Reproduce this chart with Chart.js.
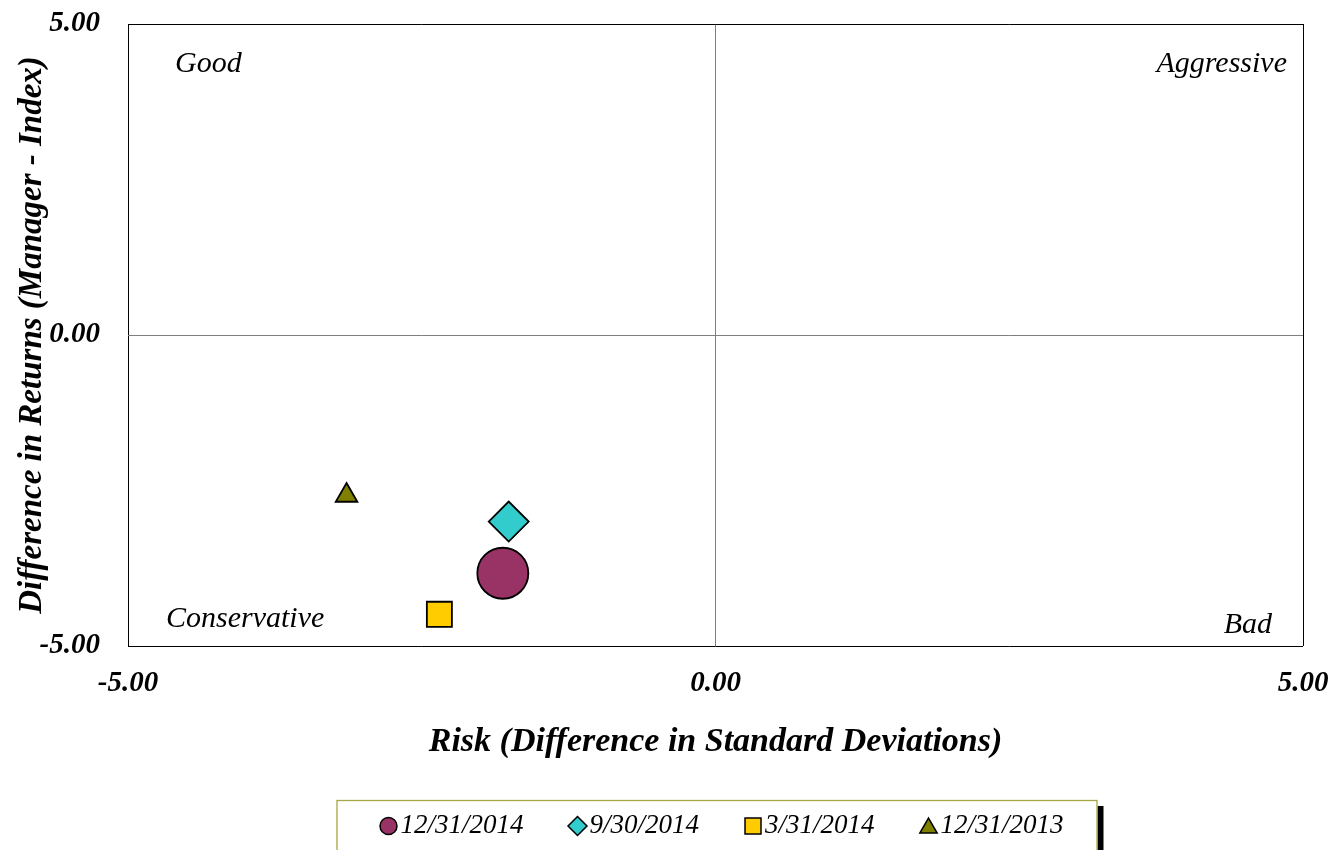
<!DOCTYPE html>
<html>
<head>
<meta charset="utf-8">
<script src="https://cdn.jsdelivr.net/npm/chart.js@4.4.1/dist/chart.umd.min.js"></script>
<style>
  html, body { margin: 0; padding: 0; background: #fff; }
  #wrap { position: relative; width: 1335px; height: 850px; }
</style>
</head>
<body>
<div id="wrap"><canvas id="rr"></canvas></div>
<script>
// Risk / return scatter: manager vs index

const seriesLabels = ['12/31/2014', '9/30/2014', '3/31/2014', '12/31/2013'];
const riskDiff = [-1.81, -1.76, -2.35, -3.14];
const returnDiff = [-3.83, -3.00, -4.49, -2.58];
const axisTicks = [-5, 0, 5];
const quadrantLabels = ['Good', 'Aggressive', 'Conservative', 'Bad'];

const SERIF = '"Liberation Serif", "Times New Roman", serif';
const markerStyle = ['circle', 'rectRot', 'rect', 'triangle'];
const markerColor = ['#993366', '#33CCCC', '#FFCC00', '#808000'];
const markerRadius = [25.5, 20, 17.7, 12.5];
const legendRadius = [8.5, 9.5, 11.3, 10];

const datasets = seriesLabels.map((lbl, i) => ({
  label: lbl,
  data: [{ x: riskDiff[i], y: returnDiff[i] }],
  pointStyle: markerStyle[i],
  pointRadius: markerRadius[i],
  pointBackgroundColor: markerColor[i],
  pointBorderColor: '#000',
  pointBorderWidth: 1.8
}));

const gridColor = (ctx) => ctx.tick && ctx.tick.value === 0 ? '#7f7f7f' : '#000';

// fixed axis sizes; drop the label overhang padding so the plot box stays put
const fixAxis = (size) => (s) => {
  if (s.isHorizontal()) s.height = size; else s.width = size;
  s.paddingLeft = s.paddingRight = s.paddingTop = s.paddingBottom = 0;
};

// quadrant captions, anchored to the plot corners
const quadrantPlugin = {
  id: 'quadrants',
  afterDatasetsDraw(chart) {
    const { ctx, chartArea: a } = chart;
    ctx.save();
    ctx.font = 'italic 30px ' + SERIF;
    ctx.fillStyle = '#000';
    ctx.textBaseline = 'middle';
    ctx.textAlign = 'left';
    ctx.fillText(quadrantLabels[0], a.left + 47, a.top + 40);
    ctx.fillText(quadrantLabels[2], a.left + 38, a.bottom - 27);
    ctx.textAlign = 'right';
    ctx.fillText(quadrantLabels[1], a.right - 16, a.top + 40);
    ctx.fillText(quadrantLabels[3], a.right - 31, a.bottom - 21);
    ctx.restore();
  }
};

// boxed legend under the x axis title
const legendPlugin = {
  id: 'boxLegend',
  afterDraw(chart) {
    const { ctx, chartArea: a } = chart;
    const boxW = 760, boxTop = 800;
    const boxL = (a.left + a.right) / 2 - boxW / 2 + 1;
    ctx.save();
    // shadow on the right
    ctx.fillStyle = '#000';
    ctx.fillRect(boxL + boxW + 1, boxTop + 6, 6, 60);
    ctx.fillStyle = '#fff';
    ctx.fillRect(boxL, boxTop, boxW, 60);
    ctx.strokeStyle = '#a6a646';
    ctx.lineWidth = 1.3;
    ctx.strokeRect(boxL + 0.5, boxTop + 0.5, boxW, 60);

    ctx.font = 'italic 27px ' + SERIF;
    ctx.textBaseline = 'middle';
    ctx.textAlign = 'left';
    const cy = 826;
    let cursor = boxL + 44;
    seriesLabels.forEach((lbl, i) => {
      const cx = cursor + 8;
      ctx.fillStyle = markerColor[i];
      ctx.strokeStyle = '#000';
      ctx.lineWidth = 1.5;
      Chart.helpers.drawPoint(ctx, { pointStyle: markerStyle[i], radius: legendRadius[i], rotation: 0, borderWidth: 1.5 }, cx, i === 3 ? cy + 2 : cy);
      const tx = cx + 12;
      ctx.fillStyle = '#000';
      ctx.fillText(lbl, tx, cy);
      cursor = tx + ctx.measureText(lbl).width + 46;
    });
    ctx.restore();
  }
};

new Chart(document.getElementById('rr'), {
  type: 'scatter',
  data: { datasets },
  plugins: [quadrantPlugin, legendPlugin],
  options: {
    responsive: true,
    maintainAspectRatio: false,
    animation: false,
    layout: { autoPadding: false, padding: { top: 24, right: 32, left: 0, bottom: 84 } },
    plugins: {
      legend: { display: false },
      tooltip: { enabled: false }
    },
    scales: {
      x: {
        type: 'linear',
        min: -5, max: 5,
        afterBuildTicks: (s) => { s.ticks = axisTicks.map(v => ({ value: v })); },
        afterFit: fixAxis(120),
        grid: { color: gridColor, lineWidth: 1, drawTicks: false },
        border: { display: false },
        ticks: {
          padding: 20,
          color: '#000',
          font: { family: SERIF, size: 29, style: 'italic', weight: 'bold' },
          callback: (v) => Number(v).toFixed(2)
        },
        title: {
          display: true,
          text: 'Risk (Difference in Standard Deviations)',
          color: '#000',
          padding: { top: 0, bottom: 3 },
          font: { family: SERIF, size: 34, style: 'italic', weight: 'bold' }
        }
      },
      y: {
        type: 'linear',
        min: -5, max: 5,
        afterBuildTicks: (s) => { s.ticks = axisTicks.map(v => ({ value: v })); },
        afterFit: fixAxis(128),
        grid: { color: gridColor, lineWidth: 1, drawTicks: false },
        border: { display: false },
        ticks: {
          padding: 28,
          color: '#000',
          font: { family: SERIF, size: 29, style: 'italic', weight: 'bold' },
          callback: (v) => Number(v).toFixed(2)
        },
        title: {
          display: true,
          text: 'Difference in Returns (Manager - Index)',
          color: '#000',
          padding: { top: 13, bottom: 0 },
          font: { family: SERIF, size: 33, style: 'italic', weight: 'bold' }
        }
      }
    }
  }
});
</script>
</body>
</html>
